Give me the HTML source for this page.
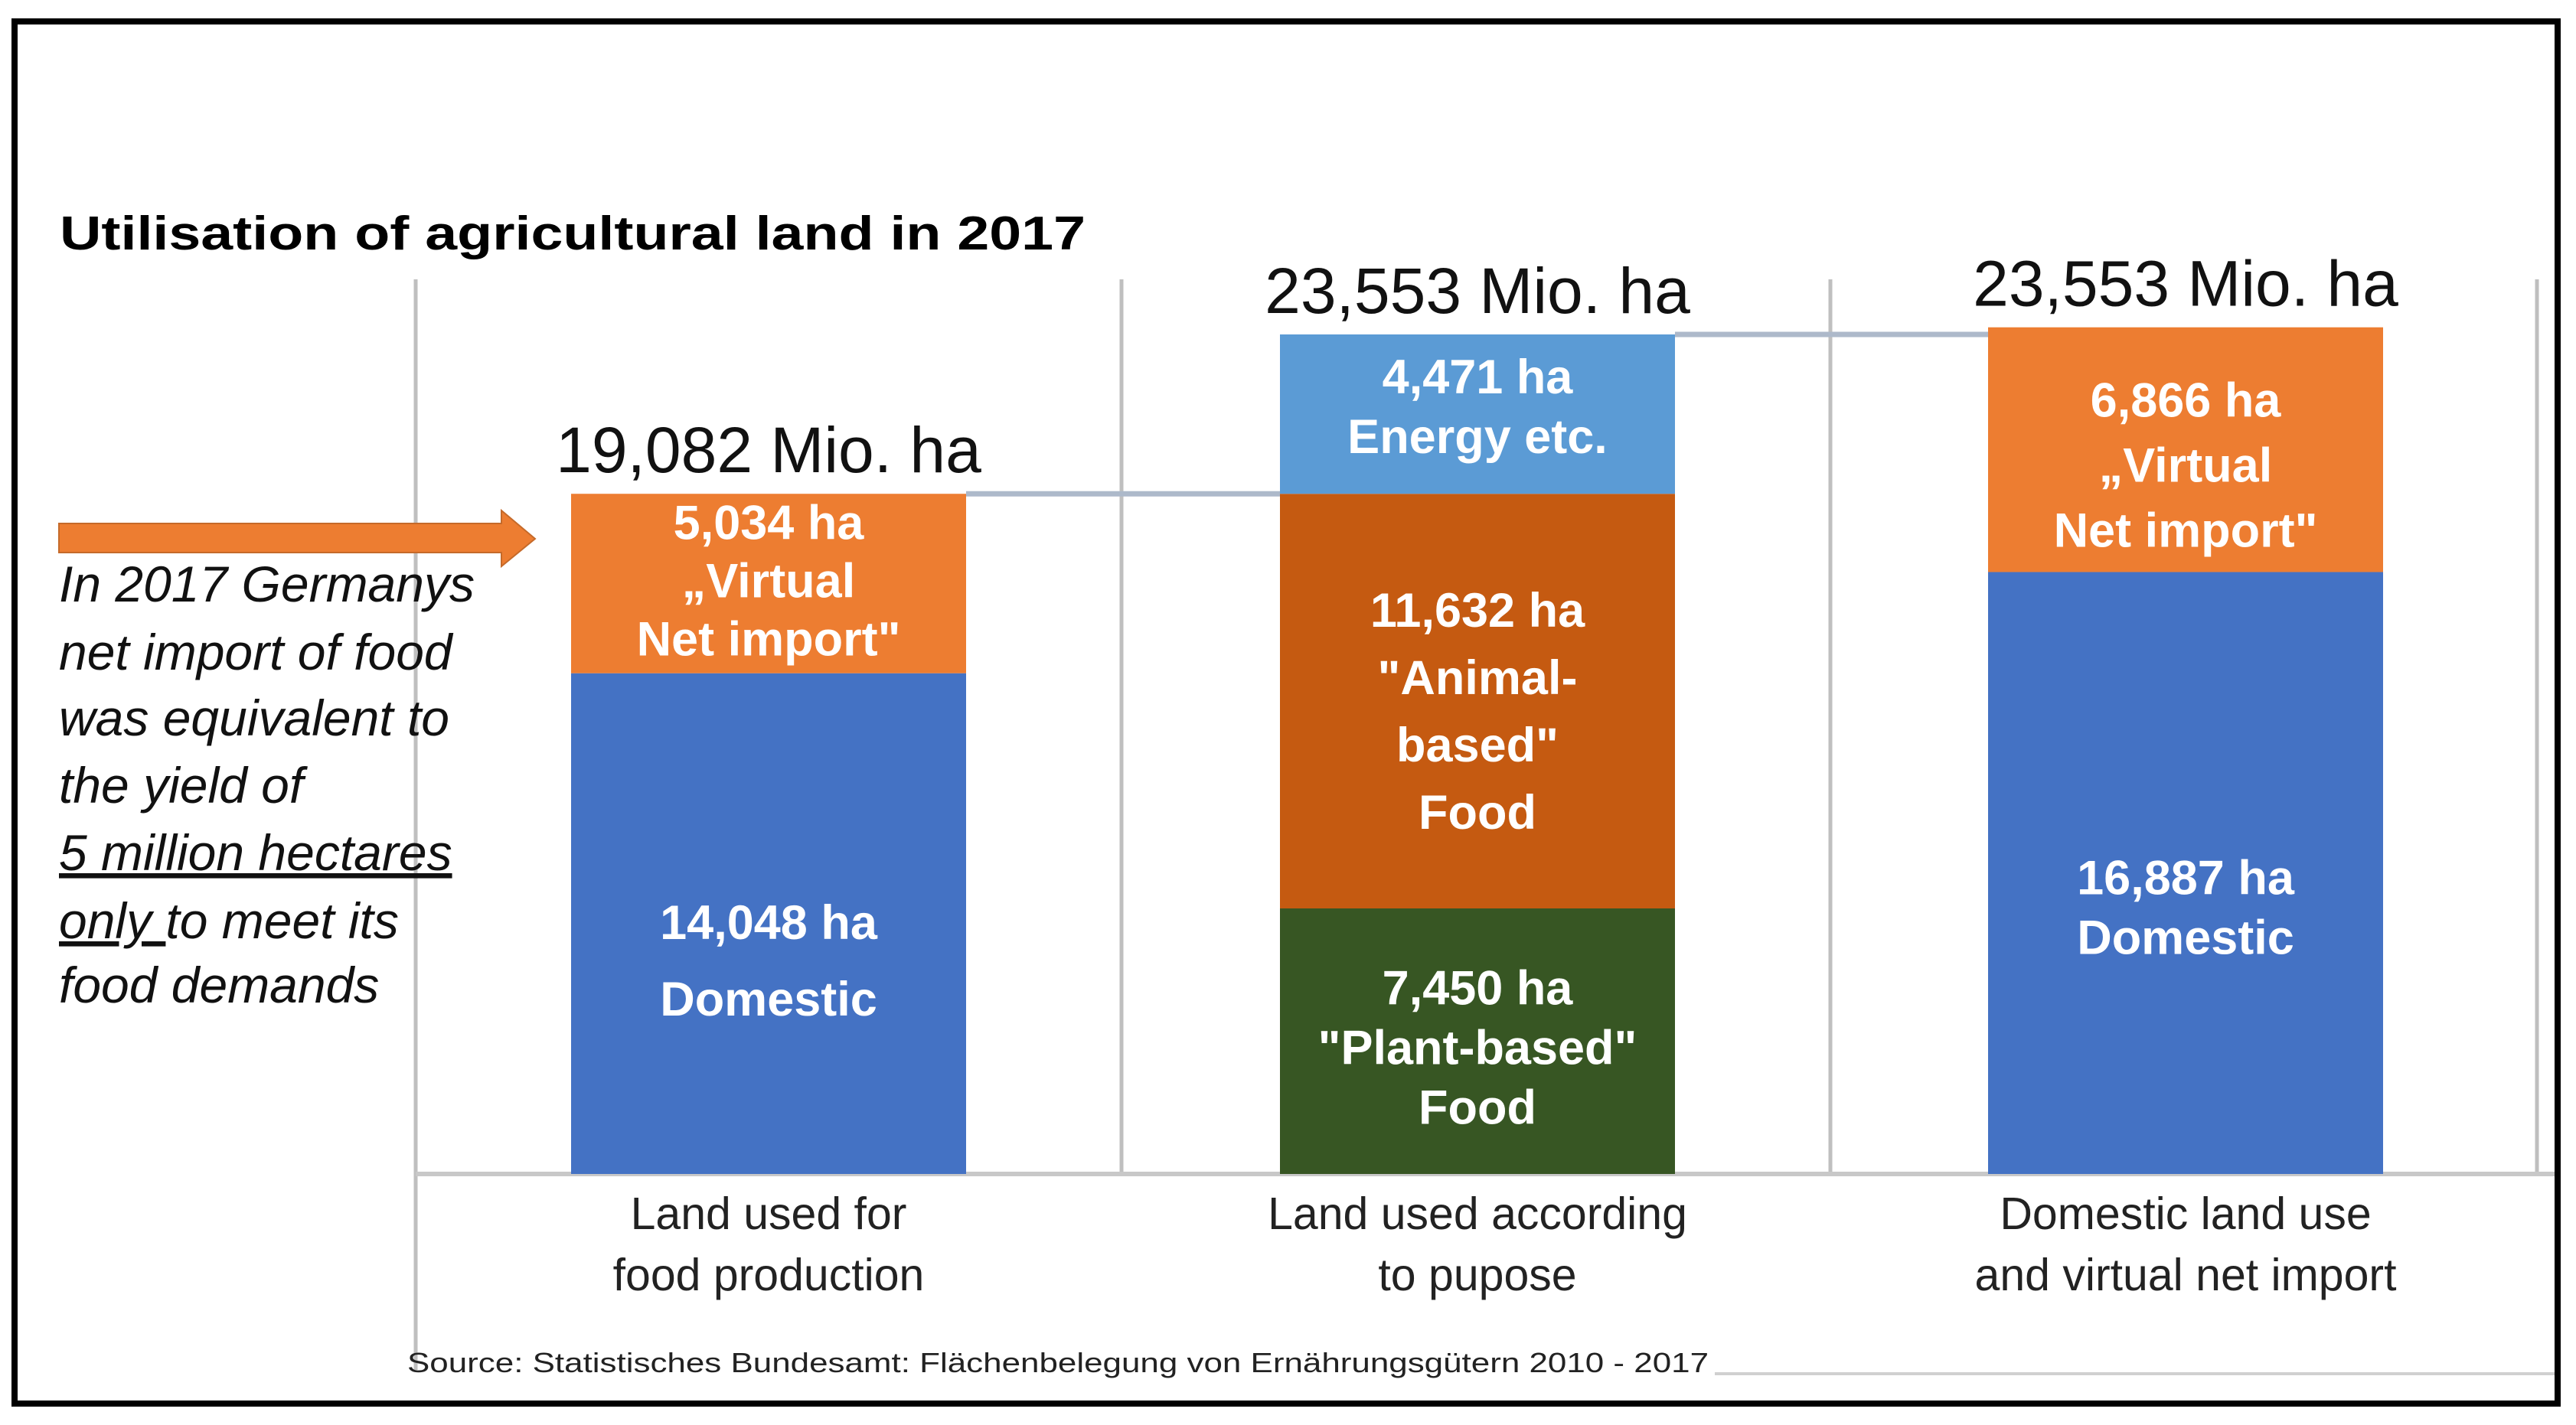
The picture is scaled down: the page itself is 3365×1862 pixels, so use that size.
<!DOCTYPE html>
<html><head><meta charset="utf-8"><style>
html,body{margin:0;padding:0;background:#fff;}
svg{display:block;}
text{font-family:"Liberation Sans",sans-serif;}
</style></head><body>
<svg id="chart" width="3365" height="1862" viewBox="0 0 3365 1862" xmlns="http://www.w3.org/2000/svg">
  <rect x="19" y="28" width="3322" height="1806" fill="#fff" stroke="#000" stroke-width="8"/>
  <text x="78" y="326" font-size="62" font-weight="bold" fill="#000" textLength="1340" lengthAdjust="spacingAndGlyphs">Utilisation of agricultural land in 2017</text>
  <g id="grid"></g>
  <g id="bars"></g>
  <g id="labels"></g>
  <polygon points="77,684 655,684 655,667 699,704 655,740 655,722 77,722" fill="#ED7D31" stroke="#C56A2A" stroke-width="2"/>
  <g font-size="66" font-style="italic" fill="#111">
    <text x="77" y="786">In 2017 Germanys</text>
    <text x="77" y="875">net import of food</text>
    <text x="77" y="961">was equivalent to</text>
    <text x="77" y="1049">the yield of</text>
    <text x="77" y="1137" text-decoration="underline">5 million hectares</text>
    <text x="77" y="1226"><tspan text-decoration="underline">only </tspan>to meet its</text>
    <text x="77" y="1310">food demands</text>
  </g>
  <line x1="2240" y1="1795" x2="3337" y2="1795" stroke="#D0D0D0" stroke-width="4"/>
  <text x="532" y="1793" font-size="36" fill="#222" textLength="1700" lengthAdjust="spacingAndGlyphs">Source: Statistisches Bundesamt: Flächenbelegung von Ernährungsgütern 2010 - 2017</text>
</svg>
<script>
const categories = [["Land used for","food production"],["Land used according","to pupose"],["Domestic land use","and virtual net import"]];
const totalLabels = ["19,082 Mio. ha","23,553 Mio. ha","23,553 Mio. ha"];
const bar1Values = [14048, 5034];
const bar2Values = [7450, 11632, 4471];
const bar3Values = [16887, 6866];
const bar1Labels = [["14,048 ha","Domestic"],["5,034 ha","„Virtual","Net import\""]];
const bar2Labels = [["7,450 ha","\"Plant-based\"","Food"],["11,632 ha","\"Animal-","based\"","Food"],["4,471 ha","Energy etc."]];
const bar3Labels = [["16,887 ha","Domestic"],["6,866 ha","„Virtual","Net import\""]];

const NS = "http://www.w3.org/2000/svg";
const gGrid = document.getElementById('grid');
const gBars = document.getElementById('bars');
const gLab = document.getElementById('labels');
const baseY = 1534, plotTop = 437, yMax = 23553;
function yScale(v){ return baseY - v/yMax*(baseY-plotTop); }
const barLeft = [746, 1672, 2597], barW = 516;
const colors = [["#4472C4","#ED7D31"],["#375623","#C55A11","#5B9BD5"],["#4472C4","#ED7D31"]];
const labelShift = [[70,18],[30,35,12],[67,42]];
const lineGap = [[100,76],[78,88,78],[78,85]];
function el(tag, attrs, parent){ const e=document.createElementNS(NS,tag); for(const k in attrs) e.setAttribute(k,attrs[k]); parent.appendChild(e); return e; }

[543,1465,2391,3314].forEach((x,i)=>{
  const l = el('line',{x1:x,y1:365,x2:x,y2:(i===0?1790:baseY),stroke:"#BFBFBF","stroke-width":5},gGrid);
  
  
});
const ax = el('line',{x1:543,y1:baseY,x2:3337,y2:baseY,stroke:"#C8C8C8","stroke-width":6},gGrid);



const allValues = [bar1Values,bar2Values,bar3Values];
const allLabels = [bar1Labels,bar2Labels,bar3Labels];
const tops = [];
allValues.forEach((vals,b)=>{
  let cum = 0;
  vals.forEach((v,s)=>{
    const y0 = yScale(cum), y1 = yScale(cum+v);
    cum += v;
    const r = el('rect',{x:barLeft[b],y:y1,width:barW,height:y0-y1,fill:colors[b][s]},gBars);
    
    
    const lines = allLabels[b][s];
    const cy = (y0+y1)/2 + labelShift[b][s];
    const gap = lineGap[b][s];
    lines.forEach((t,i)=>{
      const tx = el('text',{x:barLeft[b]+barW/2,y:cy+(i-(lines.length-1)/2)*gap,"text-anchor":"middle","font-size":63,"font-weight":"bold",fill:"#fff"},gLab);
      tx.textContent = t;
      
      
    });
  });
  tops.push(yScale(cum));
  const tl = el('text',{x:barLeft[b]+barW/2,y:yScale(cum)-28,"text-anchor":"middle","font-size":84,fill:"#111"},gLab);
  tl.textContent = totalLabels[b];
  
  
  categories[b].forEach((t,i)=>{
    const c = el('text',{x:barLeft[b]+barW/2,y:1606+i*80,"text-anchor":"middle","font-size":59,fill:"#222"},gLab);
    c.textContent = t;
    
    
  });
});
for(let b=0;b<2;b++){
  const c = el('line',{x1:barLeft[b]+barW,y1:tops[b],x2:barLeft[b+1],y2:tops[b],stroke:"#ADB9CA","stroke-width":7},gBars);
  
  
}
</script>
</body></html>
